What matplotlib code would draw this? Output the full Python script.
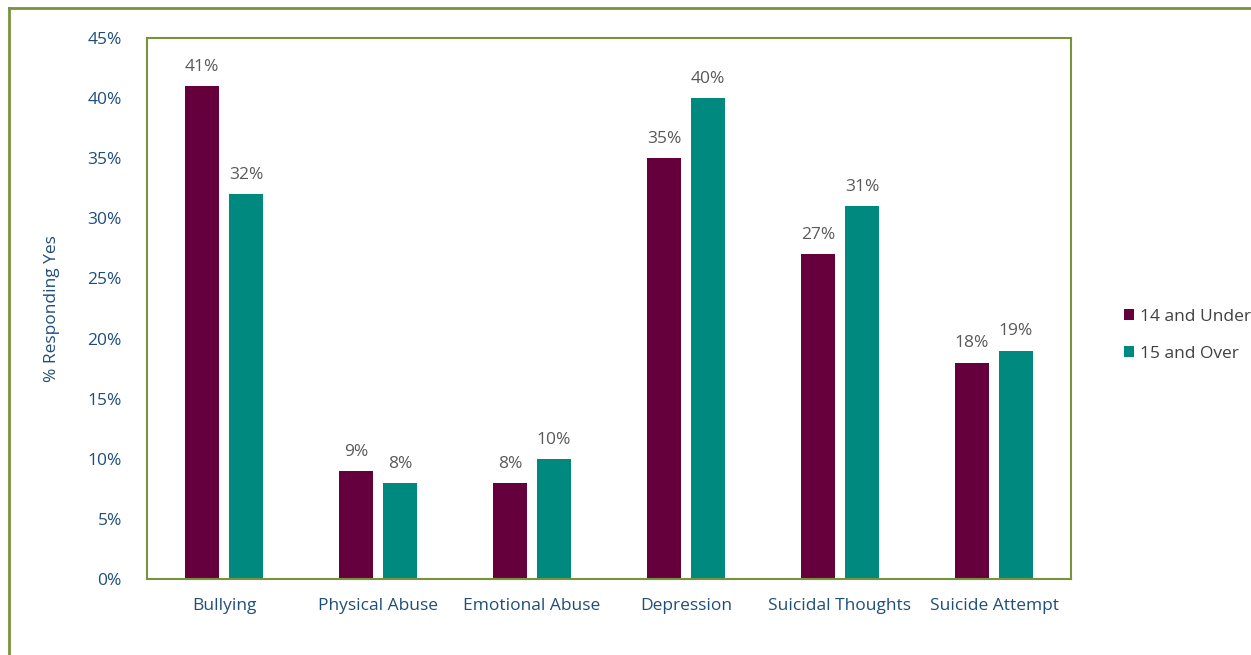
import numpy as np
import matplotlib.pyplot as plt
from matplotlib.lines import Line2D

categories = ["Bullying", "Physical Abuse", "Emotional Abuse", "Depression",
              "Suicidal Thoughts", "Suicide Attempt"]
under_14 = [41, 9, 8, 35, 27, 18]
over_15 = [32, 8, 10, 40, 31, 19]
series_names = ["14 and Under", "15 and Over"]

purple = "#66003D"
teal = "#00897F"
olive = "#77933C"
navy = "#1F4E79"
grey = "#595959"

plt.rcParams["font.family"] = ["Open Sans", "DejaVu Sans"]
fs = 12.5

fig = plt.figure(figsize=(12.51, 6.55), dpi=100)
ax = fig.add_axes([147 / 1251, 1 - 579 / 655, 924 / 1251, 541 / 655])

# outer chart frame (only top and left visible in the crop)
fig.add_artist(Line2D([9 / 1251, 9 / 1251], [0, 1 - 8 / 655], transform=fig.transFigure,
                      color=olive, lw=2))
fig.add_artist(Line2D([9 / 1251, 1], [1 - 8 / 655, 1 - 8 / 655], transform=fig.transFigure,
                      color=olive, lw=2))

x = np.arange(len(categories))
w = 0.22
off = 0.1425
b1 = ax.bar(x - off, under_14, w, color=purple, label=series_names[0])
b2 = ax.bar(x + off, over_15, w, color=teal, label=series_names[1])

for bars, vals in [(b1, under_14), (b2, over_15)]:
    for rect, v in zip(bars, vals):
        ax.annotate(f"{v}%", (rect.get_x() + rect.get_width() / 2, v),
                    xytext=(0, 8), textcoords="offset points", ha="center", va="bottom",
                    fontsize=fs, color=grey)

ax.set_xlim(-0.5, len(categories) - 0.5)
ax.set_ylim(0, 45)
ax.set_yticks(np.arange(0, 46, 5))
ax.set_yticklabels([f"{t}%" for t in range(0, 46, 5)])
ax.set_xticks(x)
ax.set_xticklabels(categories)
ax.tick_params(axis="both", length=0, colors=navy, labelsize=fs)
ax.tick_params(axis="y", pad=18)
ax.tick_params(axis="x", pad=14)
for s in ax.spines.values():
    s.set_color(olive)
    s.set_linewidth(1.5)

ax.set_ylabel("% Responding Yes", color=navy, fontsize=fs, labelpad=20)

leg = fig.legend(handles=[b1, b2], loc="upper left", bbox_to_anchor=(1117 / 1251, 1 - 302 / 655),
                 frameon=False, fontsize=fs, handlelength=0.6, handleheight=0.6,
                 handletextpad=0.3, labelspacing=1.2, borderaxespad=0)
for t in leg.get_texts():
    t.set_color("#404040")

fig.savefig("out.png", dpi=100)
